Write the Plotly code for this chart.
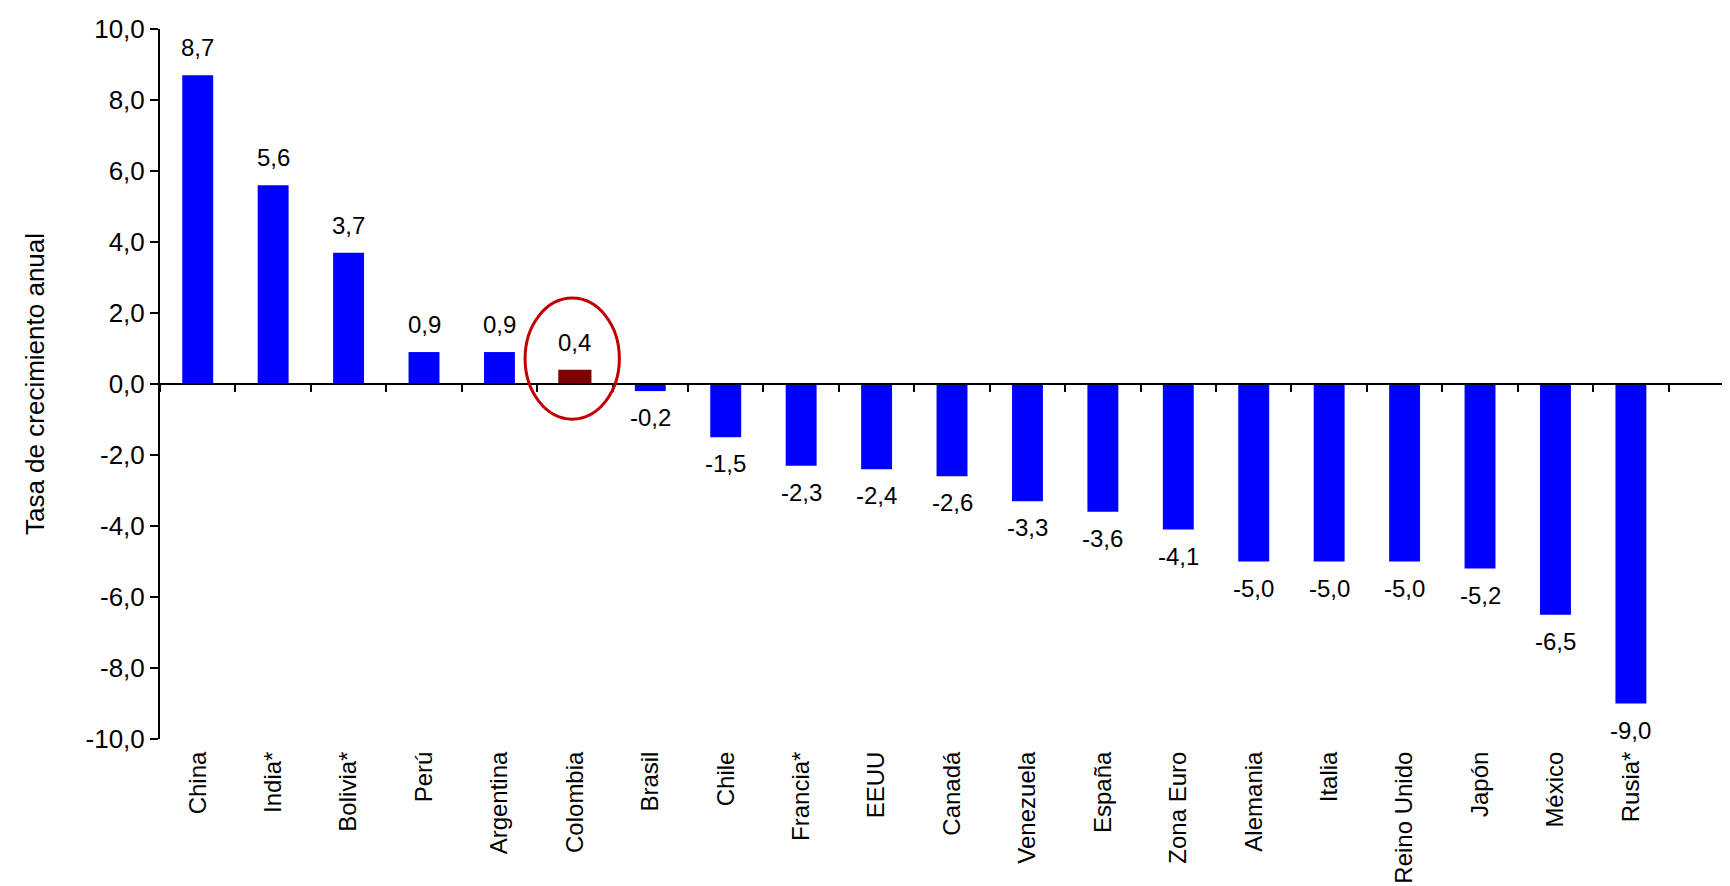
"""Crecimiento anual por país: barras con Colombia resaltada."""

import plotly.graph_objects as go

# Datos
paises = [
    "China", "India*", "Bolivia*", "Perú", "Argentina", "Colombia", "Brasil",
    "Chile", "Francia*", "EEUU", "Canadá", "Venezuela", "España", "Zona Euro",
    "Alemania", "Italia", "Reino Unido", "Japón", "México", "Rusia*",
]
valores = [
    8.7, 5.6, 3.7, 0.9, 0.9, 0.4, -0.2,
    -1.5, -2.3, -2.4, -2.6, -3.3, -3.6, -4.1,
    -5.0, -5.0, -5.0, -5.2, -6.5, -9.0,
]
ytick_vals = [10, 8, 6, 4, 2, 0, -2, -4, -6, -8, -10]
ytick_text = ["10,0", "8,0", "6,0", "4,0", "2,0", "0,0",
              "-2,0", "-4,0", "-6,0", "-8,0", "-10,0"]
destacado = "Colombia"

BLUE = "#0000FF"
DARK_RED = "#800000"
RING = "#C00000"
FONT = "Liberation Sans, Arial, sans-serif"
X_RANGE = [-0.5, 20.42]

colors = [DARK_RED if p == destacado else BLUE for p in paises]
widths = [0.44 if p == destacado else 0.41 for p in paises]

fig = go.Figure()
fig.add_trace(go.Bar(
    x=paises, y=valores, marker_color=colors, marker_line_width=0,
    width=widths, xaxis="x", yaxis="y", hoverinfo="x+y",
))
# trace fantôme pour l'axe du zéro (ligne + graduations entre catégories)
fig.add_trace(go.Scatter(
    x=paises, y=valores, xaxis="x2", yaxis="y", mode="markers",
    marker={"opacity": 0}, hoverinfo="skip", showlegend=False,
))

# étiquettes de valeurs
for p, v in zip(paises, valores):
    fig.add_annotation(
        x=p, y=v, xref="x", yref="y",
        text=f"{v:.1f}".replace(".", ","),
        showarrow=False,
        yanchor="bottom" if v >= 0 else "top",
        yshift=12 if v >= 0 else -11,
        font={"family": FONT, "size": 24, "color": "black"},
    )

# titre de l'axe Y
fig.add_annotation(
    x=-0.0792, y=0.5, xref="paper", yref="paper",
    text="Tasa de crecimiento anual", textangle=-90, showarrow=False,
    xanchor="center", yanchor="middle",
    font={"family": FONT, "size": 26, "color": "black"},
)

# cercle autour de Colombia
fig.add_shape(
    type="circle", xref="x", yref="y",
    x0=4.34, x1=5.59, y0=-0.99, y1=2.42,
    line={"color": RING, "width": 3},
)

fig.update_layout(
    width=1730, height=886,
    plot_bgcolor="white", paper_bgcolor="white",
    margin={"l": 152, "r": 0, "t": 21, "b": 155, "autoexpand": False},
    showlegend=False,
    bargap=0.59,
    font={"family": FONT, "size": 24, "color": "black"},
    xaxis={
        "type": "category", "categoryorder": "array", "categoryarray": paises,
        "range": X_RANGE, "showline": False, "showgrid": False, "zeroline": False,
        "ticks": "outside", "ticklen": 2, "tickcolor": "rgba(0,0,0,0)",
        "tickangle": -90, "tickfont": {"family": FONT, "size": 24, "color": "black"},
    },
    xaxis2={
        "type": "category", "categoryorder": "array", "categoryarray": paises,
        "range": X_RANGE, "overlaying": "x", "anchor": "free", "position": 0.5,
        "side": "bottom", "showline": True, "linecolor": "black", "linewidth": 1.8,
        "ticks": "outside", "tickson": "boundaries", "ticklen": 7,
        "tickcolor": "black", "tickwidth": 1.8,
        "showticklabels": False, "showgrid": False, "zeroline": False,
    },
    yaxis={
        "range": [-10, 10], "tickvals": ytick_vals, "ticktext": ytick_text,
        "showline": True, "linecolor": "black", "linewidth": 2,
        "ticks": "outside", "ticklen": 8, "tickcolor": "black", "tickwidth": 1.8,
        "showgrid": False, "zeroline": False,
        "tickfont": {"family": FONT, "size": 26, "color": "black"},
    },
)

fig.write_html("out.html")
